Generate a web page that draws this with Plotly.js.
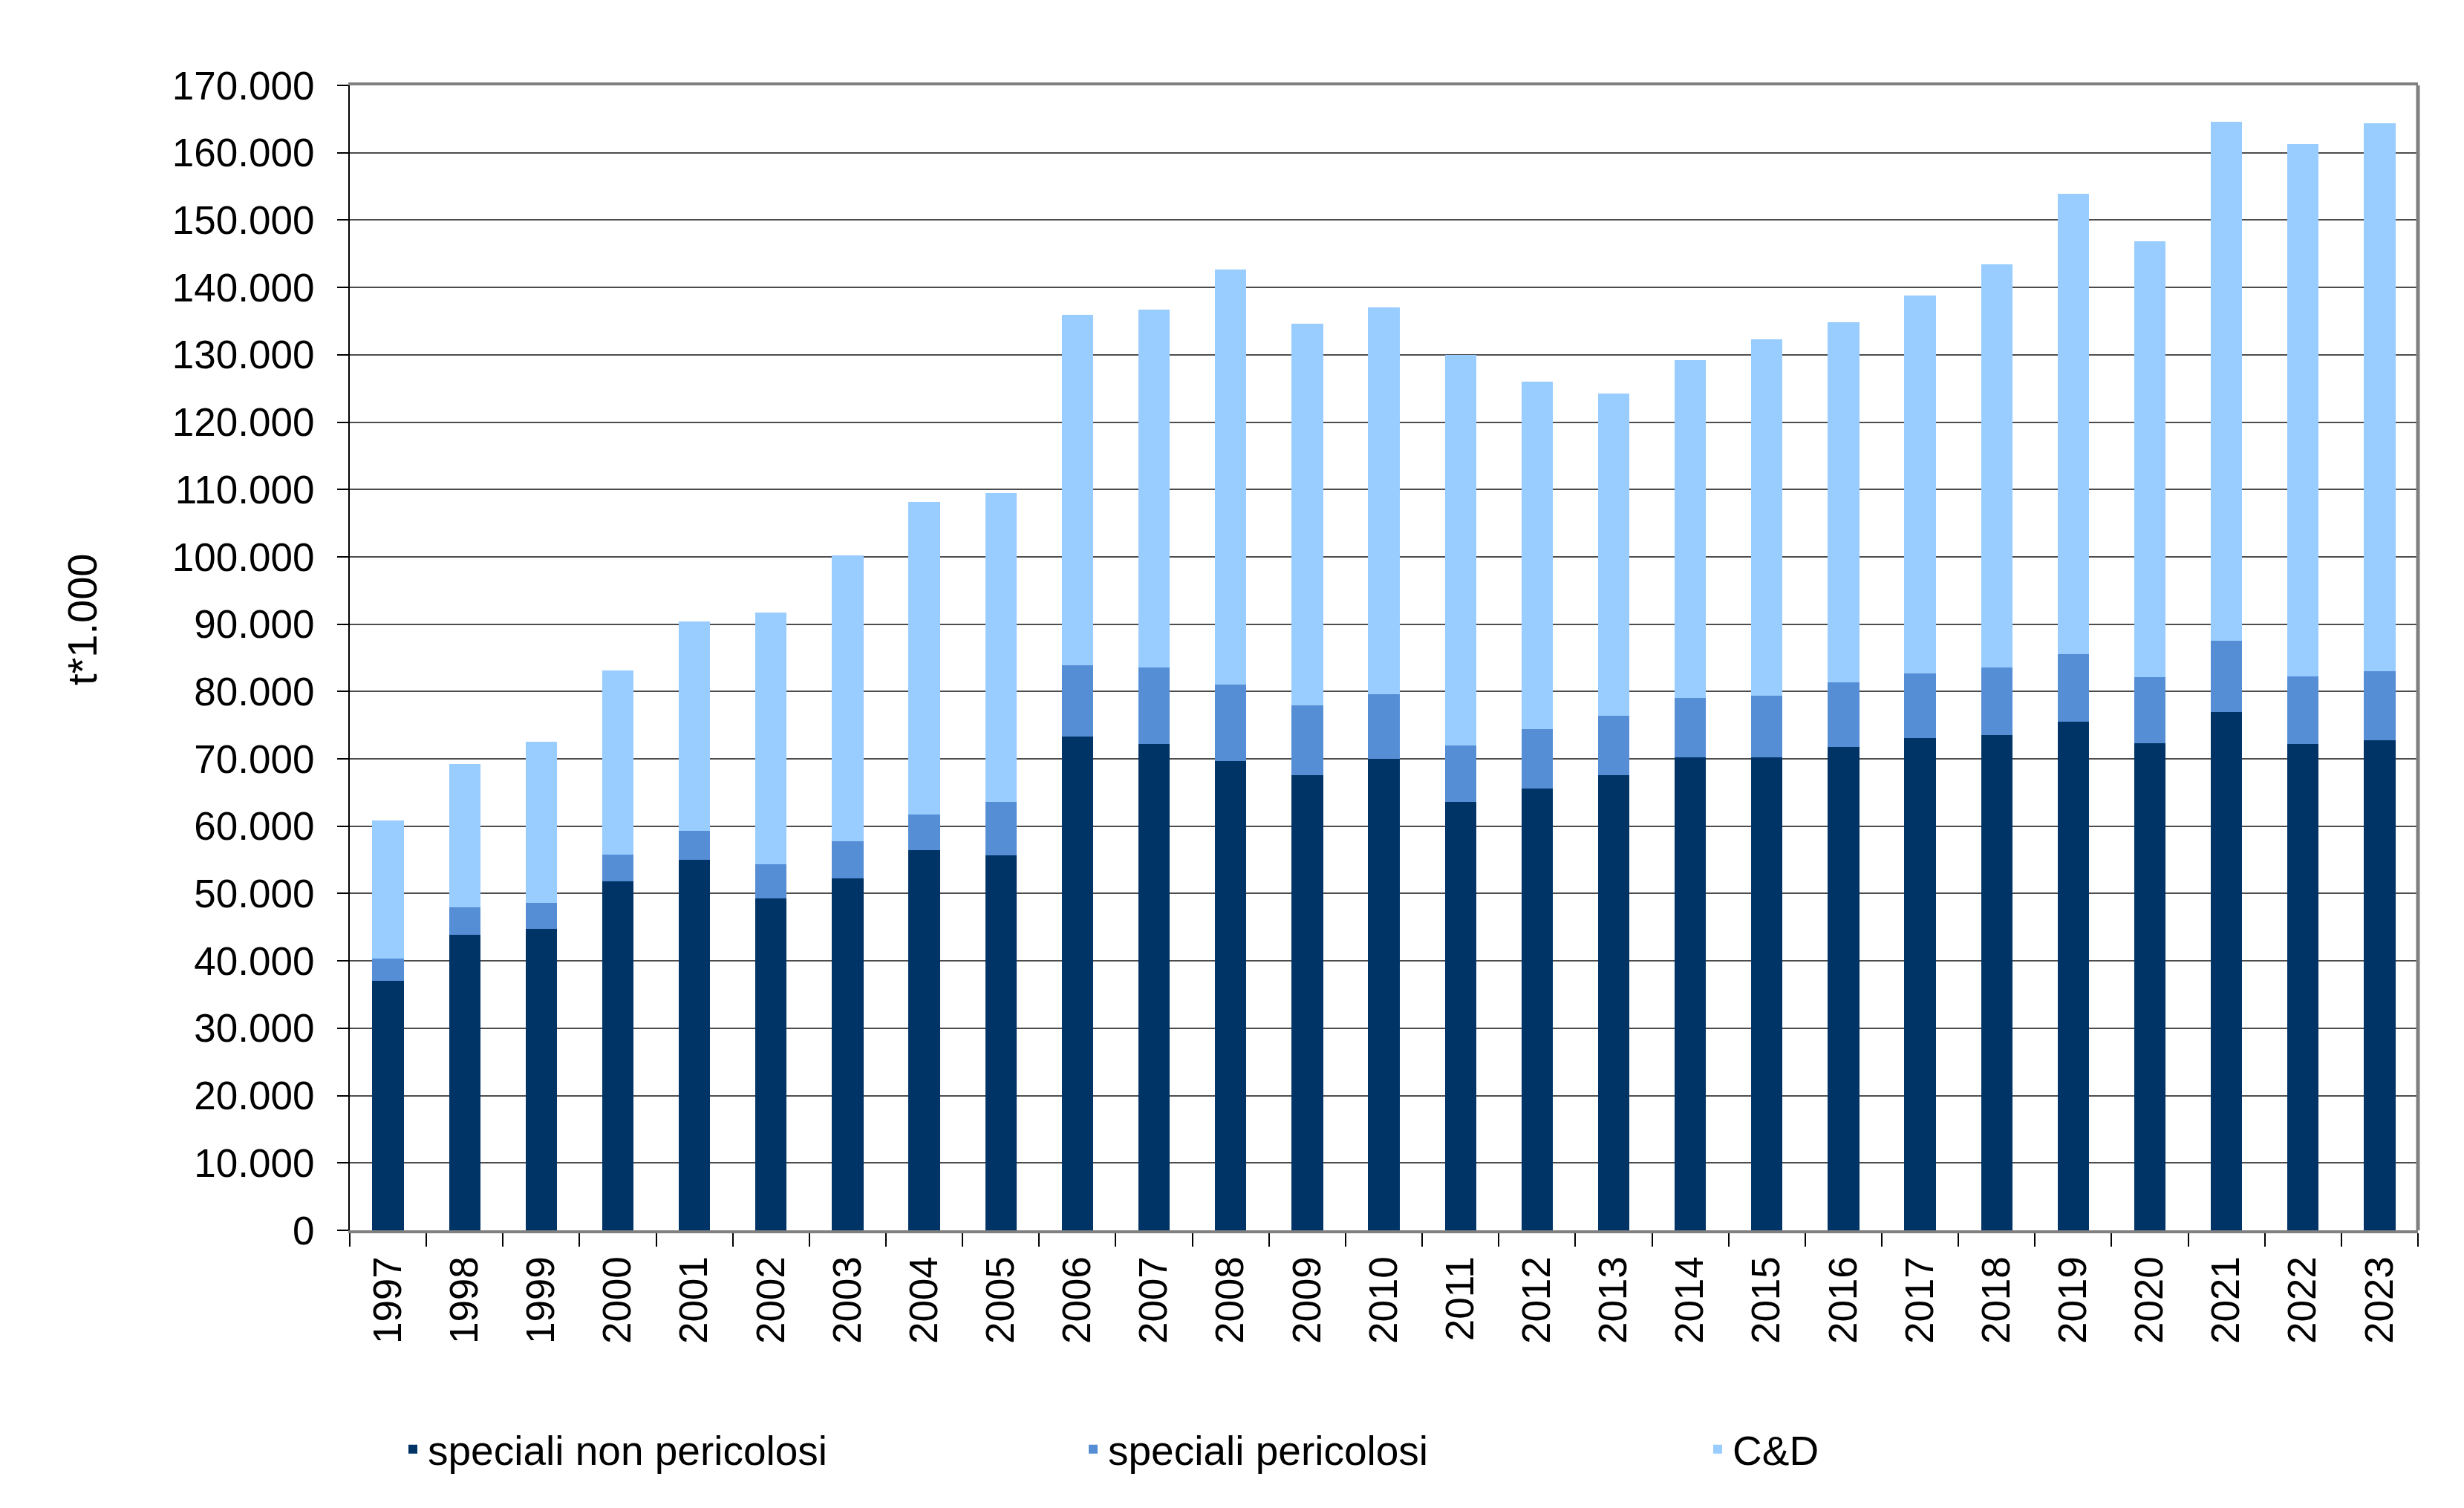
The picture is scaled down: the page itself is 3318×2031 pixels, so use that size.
<!DOCTYPE html>
<html>
<head>
<meta charset="utf-8">
<script src="https://cdn.plot.ly/plotly-3.0.1.min.js"></script>
<style>html,body{margin:0;padding:0;background:#fff;}#chart{width:3318px;height:2031px;}</style>
</head>
<body>
<div id="chart"></div>
<script>
const years = ['1997','1998','1999','2000','2001','2002','2003','2004','2005','2006','2007','2008','2009','2010','2011','2012','2013','2014','2015','2016','2017','2018','2019','2020','2021','2022','2023'];
const specialiNonPericolosi = [37050,43890,44770,51800,55030,49270,52250,56430,55670,73340,72260,69660,67570,70040,63650,65610,67570,70270,70230,71750,73080,73530,75490,72320,76950,72200,72770];
const specialiPericolosi = [3350,4050,3800,3990,4250,5070,5570,5320,7910,10570,11340,11400,10390,9570,8290,8800,8870,8830,9190,9630,9630,10070,10070,9820,10570,10070,10260];
const cd = [20460,21340,23940,27300,31090,37360,42400,46380,45880,52010,53080,61630,56630,57450,58030,51570,47830,50110,52890,53460,56120,59850,68330,64730,77130,79030,81310];
const seriesNames = ['speciali non pericolosi','speciali pericolosi','C&D'];
const yTitle = 't*1.000';

const FONT = 'Liberation Sans, Arial, sans-serif';
const colors = ['#003366','#558ed5','#99ccff'];
const values = [specialiNonPericolosi, specialiPericolosi, cd];
const legends = ['legend','legend2','legend3'];

const traces = values.map((v,i)=>({
  type:'bar', x:years, y:v, name:seriesNames[i],
  marker:{color:colors[i], line:{width:0}},
  legend:legends[i], hoverinfo:'x+y+name'
}));

const L = 471, R = 3256, T = 115, B = 1657, W = 3318, H = 2031;
const pw = R-L, ph = B-T;
const px = x => (x-L)/pw;
const py = y => (B-y)/ph;

const legendBase = {orientation:'h', xanchor:'left', yanchor:'middle', y:py(1952),
  font:{family:FONT,size:55,color:'#000'}, bgcolor:'rgba(0,0,0,0)', borderwidth:0, itemwidth:30};

const layout = {
  width:W, height:H,
  margin:{l:L, r:W-R, t:T, b:H-B, pad:0},
  paper_bgcolor:'#fff', plot_bgcolor:'#fff',
  separators:',.',
  barmode:'stack', bargap:0.59,
  font:{family:FONT, size:53, color:'#000'},
  showlegend:true,
  legend:Object.assign({}, legendBase, {x:px(536)}),
  legend2:Object.assign({}, legendBase, {x:px(1452)}),
  legend3:Object.assign({}, legendBase, {x:px(2293)}),
  xaxis:{type:'category', tickangle:-90, ticks:'outside', tickson:'boundaries', ticklen:18, tickwidth:2, tickcolor:'#000',
    showline:true, linecolor:'#808080', linewidth:4, mirror:true, showgrid:false,
    tickfont:{family:FONT,size:53,color:'#000'}, ticklabelstandoff:10},
  yaxis:{range:[0,170000], dtick:10000, tickformat:',d', ticks:'outside', ticklen:15, tickwidth:2, tickcolor:'#000',
    showline:true, linecolor:'#000', linewidth:2, showgrid:true, gridcolor:'#4d4d4d', gridwidth:2, zeroline:false,
    tickfont:{family:FONT,size:53,color:'#000'}, ticklabelstandoff:20},
  shapes:[{type:'line', xref:'paper', yref:'paper', x0:1, x1:1, y0:0, y1:1, line:{color:'#808080', width:5}}],
  annotations:[{text:yTitle, xref:'paper', yref:'paper', x:px(110), y:py(834), textangle:-90, showarrow:false,
    xanchor:'center', yanchor:'middle', font:{family:FONT,size:56,color:'#000'}}]
};

Plotly.newPlot('chart', traces, layout, {displayModeBar:false, staticPlot:true});
</script>
</body>
</html>
